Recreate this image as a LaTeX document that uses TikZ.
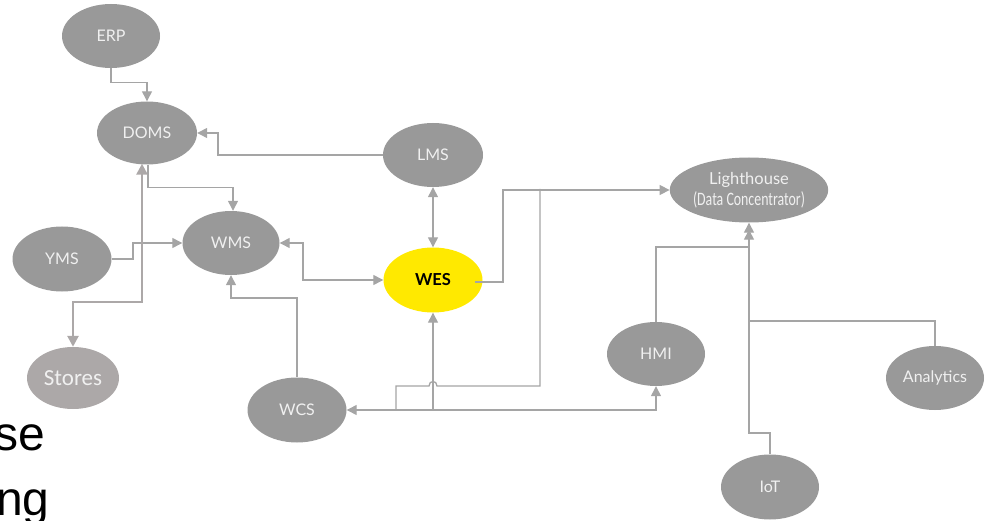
\documentclass[tikz,border=0pt]{standalone}
\usepackage{fontspec}
\setmainfont{Lato}
\newfontfamily\narrowfont{Carlito}
\newfontfamily\bodyfont{Liberation Sans}
\usetikzlibrary{arrows.meta,shapes.geometric,calc}

\definecolor{nodegray}{HTML}{999999}
\definecolor{storegray}{HTML}{ACA8A8}
\definecolor{wire}{HTML}{A5A5A5}
\definecolor{weshl}{HTML}{FFE900}
\definecolor{labelwhite}{HTML}{F0F0F0}

\begin{document}
\begin{tikzpicture}[x=1pt,y=-1pt,
  sys/.style={ellipse, fill=nodegray, inner sep=0pt, text=labelwhite,
    font=\fontsize{16}{18}\selectfont, minimum width=98, minimum height=64},
  storebox/.style={sys, fill=storegray, font=\narrowfont\fontsize{23}{25}\selectfont,
    minimum width=92, minimum height=62},
  hubbox/.style={sys, fill=weshl, text=black, font=\bfseries\fontsize{16.5}{18}\selectfont},
  link/.style={draw=wire, line width=1.3pt},
  thicklink/.style={draw=storegray, line width=2.6pt},
  tip/.style={-{Triangle[length=10pt,width=10pt]}},
  bitip/.style={{Triangle[length=10pt,width=10pt]}-{Triangle[length=10pt,width=10pt]}},
  bigtip/.style={{Triangle[length=11pt,width=11pt]}-{Triangle[length=11pt,width=11pt]}},
  bodytext/.style={font=\bodyfont\fontsize{48}{50}\selectfont, text=black, inner sep=0pt, anchor=base west}
]
\useasboundingbox (0,0) rectangle (990,521);
\clip (0,0) rectangle (990,521);

% systems
\node[sys] (erp) at (111,36) {ERP};
\node[sys, minimum width=100, minimum height=63] (doms) at (147,133) {DOMS};
\node[sys, minimum width=97] (wms) at (231,243) {WMS};
\node[sys, minimum width=99, minimum height=65] (yms) at (62,259) {YMS};
\node[storebox] (stores) at (73,378) {Stores};
\node[sys, minimum width=99, minimum height=65] (wcs) at (297,410) {WCS};
\node[sys, minimum width=100] (lms) at (433,155) {LMS};
\node[hubbox, minimum width=99, minimum height=65] (wes) at (433,280) {WES};
\node[sys, minimum width=142, minimum height=65, align=center,
      font=\fontsize{16.5}{18}\selectfont] (lh) at (749,190)
  {Lighthouse\\[3pt]\scalebox{0.73}[1]{\narrowfont\fontsize{19}{20}\selectfont(Data Concentrator)}};
\node[sys] (hmi) at (656,354) {HMI};
\node[sys] (an) at (935,378) {Analytics};
\node[sys, minimum height=65] (iot) at (770,487) {IoT};

% connectors on the left side
\draw[link, tip] (erp.south) -- ++(0,14) -| (doms.north);
\draw[link, tip] (lms.west) -- (218,155) |- (doms.east);
\draw[link, tip] ($(doms.south)+(1,0)$) -- ++(0,23) -| ($(wms.north)+(2,0)$);
\draw[link, tip] (yms.east) -- (133,259) |- (wms.west);
\draw[link, bitip] (wms.east) -- (303,243) |- (wes.west);
\draw[link, tip] (wcs.north) -- (297,298) -| (wms.south);
\draw[thicklink, bigtip] ($(doms.south)+(-5,-1)$) -- (142,302) -| (stores.north);

% connectors around the hub
\draw[link, bitip] (lms.south) -- (wes.north);
\draw[link, tip] ($(wes.center)+(42,2)$) -- (503,282) |- (lh.west);
\coordinate (feedtop) at (540,189);
\coordinate (feedcorner) at (396,410);
\draw[link] (feedtop) -- (540,386) -- (437,386)
  .. controls (437,380) and (429,380) .. (429,386) -- (396,386) -- (feedcorner);
\draw[link, bitip] (wcs.east) -- (656,410) -- (hmi.south);
\draw[link, tip] (433,410) -- (wes.south);

% feeds into the data concentrator
\draw[link, tip] (iot.north) -- (770,433) -| (lh.south);
\draw[link, tip, shorten >=7pt] (hmi.north) -- (656,247) -| (lh.south);
\draw[link] (an.north) -- (935,321) -- (749,321);

% text of the slide behind
\node[bodytext] (line1) at (-6,450) {se};
\node[bodytext] (line2) at (-4,515) {ng};
\end{tikzpicture}
\end{document}
